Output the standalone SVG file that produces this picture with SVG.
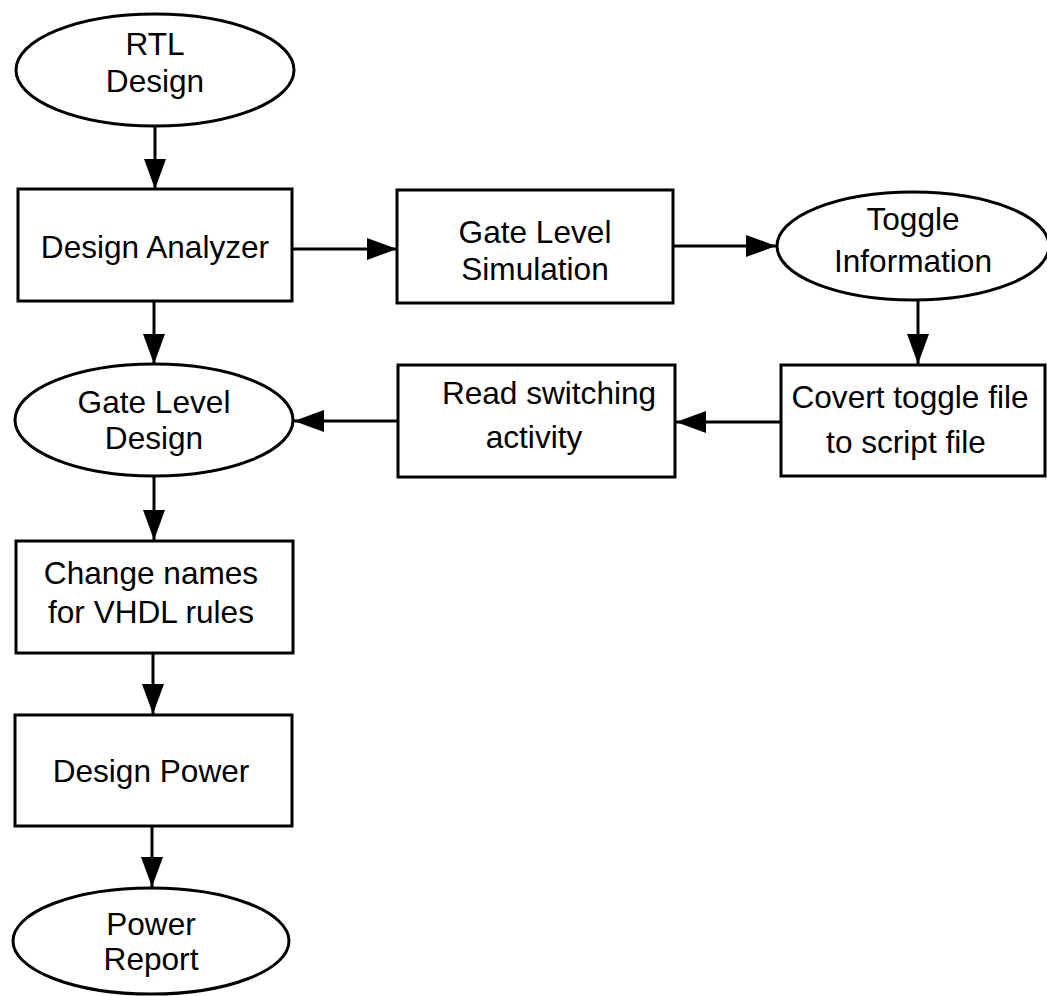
<svg xmlns="http://www.w3.org/2000/svg" width="1047" height="996" viewBox="0 0 1047 996">
<style>
.shape{fill:#fff;stroke:#000;stroke-width:3}
.lbl{font-family:"Liberation Sans",Arial,sans-serif;font-size:31.6px;fill:#000;text-anchor:middle}
.conn{stroke:#000;stroke-width:3;fill:none;marker-end:url(#ah)}
</style>
<defs>
<marker id="ah" markerUnits="userSpaceOnUse" markerWidth="31" markerHeight="24" refX="30" refY="11" orient="auto">
<path d="M0,0 L30,11 L0,22 Z" fill="#000"/>
</marker>
</defs>
<rect width="1047" height="996" fill="#fff"/>
<g id="connectors">
<line class="conn" x1="155" y1="127" x2="155" y2="189"/>
<line class="conn" x1="154" y1="301" x2="154" y2="364"/>
<line class="conn" x1="154" y1="476" x2="154" y2="540"/>
<line class="conn" x1="153" y1="653" x2="153" y2="714"/>
<line class="conn" x1="152" y1="826" x2="152" y2="887"/>
<line class="conn" x1="292" y1="249" x2="397" y2="249"/>
<line class="conn" x1="673" y1="246" x2="776" y2="246"/>
<line class="conn" x1="918" y1="300" x2="918" y2="364"/>
<line class="conn" x1="781" y1="422" x2="676" y2="422"/>
<line class="conn" x1="398" y1="421" x2="294" y2="421"/>
</g>
<g id="rtl-design">
<ellipse class="shape" cx="155" cy="70" rx="139" ry="56"/>
<text class="lbl" x="155" y="55">RTL</text>
<text class="lbl" x="155" y="92">Design</text>
</g>
<g id="design-analyzer">
<rect class="shape" x="18" y="189" width="274" height="112"/>
<text class="lbl" x="155" y="258">Design Analyzer</text>
</g>
<g id="gate-level-simulation">
<rect class="shape" x="397" y="190" width="276" height="113"/>
<text class="lbl" x="535" y="243">Gate Level</text>
<text class="lbl" x="535" y="280">Simulation</text>
</g>
<g id="toggle-information">
<ellipse class="shape" cx="913" cy="246" rx="136" ry="54"/>
<text class="lbl" x="913" y="230">Toggle</text>
<text class="lbl" x="913" y="272">Information</text>
</g>
<g id="covert-toggle">
<rect class="shape" x="781" y="365" width="264" height="111"/>
<text class="lbl" x="910" y="408">Covert toggle file</text>
<text class="lbl" x="906" y="453">to script file</text>
</g>
<g id="read-switching">
<rect class="shape" x="398" y="365" width="277" height="112"/>
<text class="lbl" x="549" y="404">Read switching</text>
<text class="lbl" x="534" y="448">activity</text>
</g>
<g id="gate-level-design">
<ellipse class="shape" cx="154" cy="420" rx="139" ry="56"/>
<text class="lbl" x="154" y="413">Gate Level</text>
<text class="lbl" x="154" y="449">Design</text>
</g>
<g id="change-names">
<rect class="shape" x="16" y="541" width="277" height="112"/>
<text class="lbl" x="151" y="584">Change names</text>
<text class="lbl" x="151" y="623">for VHDL rules</text>
</g>
<g id="design-power">
<rect class="shape" x="15" y="715" width="277" height="111"/>
<text class="lbl" x="151" y="782">Design Power</text>
</g>
<g id="power-report">
<ellipse class="shape" cx="151" cy="941" rx="138" ry="53"/>
<text class="lbl" x="151" y="935">Power</text>
<text class="lbl" x="151" y="970">Report</text>
</g>
</svg>
